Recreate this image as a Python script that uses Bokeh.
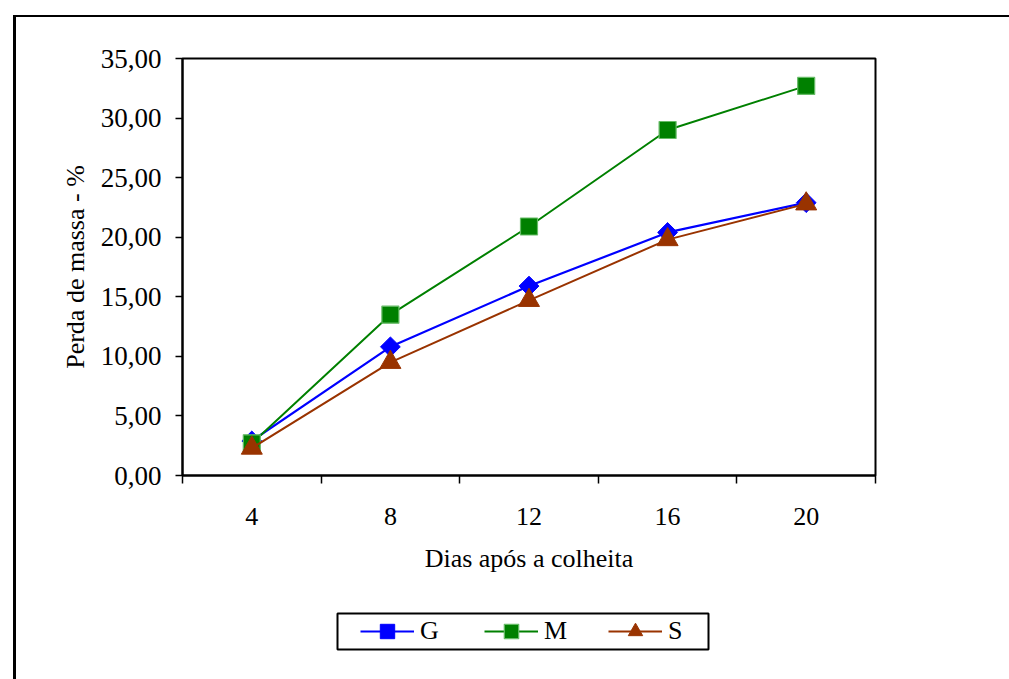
import numpy as np
from bokeh.plotting import figure
from bokeh.layouts import column, row
from bokeh.models import Range1d, FixedTicker, Legend, LegendItem, Spacer
from bokeh.embed import file_html
from bokeh.resources import INLINE

dias = ["4", "8", "12", "16", "20"]
g_vals = [2.9, 10.8, 15.9, 20.4, 22.9]
m_vals = [2.7, 13.5, 20.9, 29.0, 32.7]
s_vals = [2.3, 9.5, 14.7, 19.8, 22.8]
y_ticks = [0, 5, 10, 15, 20, 25, 30, 35]
y_tick_labels = ["0,00", "5,00", "10,00", "15,00", "20,00", "25,00", "30,00", "35,00"]
series_names = ["G", "M", "S"]

FONT = "Liberation Serif"
FS = "26px"

styles_g = dict(line_color="#0000FF", line_width=2.2)
mark_g = dict(marker="square", angle=np.pi / 4, size=14, fill_color="#0000FF", line_color="#0000FF")
styles_m = dict(line_color="#008000", line_width=2)
mark_m = dict(marker="square", size=17, fill_color="#008000", line_color="#66bb66", line_width=1.2)
styles_s = dict(line_color="#993300", line_width=2)
mark_s = dict(marker="triangle", size=21, fill_color="#993300", line_color="#993300")

xs = [i + 0.5 for i in range(len(dias))]

p = figure(width=993, height=590,
           x_range=Range1d(0, len(dias)), y_range=Range1d(0, 35),
           output_backend="svg", toolbar_location=None,
           min_border_left=166, min_border_right=134,
           min_border_top=41, min_border_bottom=132)
p.background_fill_color = "white"
p.border_fill_color = "white"
p.outline_line_color = "black"
p.outline_line_width = 2
p.xgrid.visible = False
p.ygrid.visible = False

# x axis: ticks at category boundaries, labels at centres
xa = p.xaxis[0]
xa.ticker = FixedTicker(ticks=xs, minor_ticks=list(range(len(dias) + 1)))
xa.major_label_overrides = {x: d for x, d in zip(xs, dias)}
xa.major_tick_line_color = None
xa.minor_tick_line_color = "black"
xa.minor_tick_line_width = 1.5
xa.minor_tick_out = 8
xa.minor_tick_in = 0
xa.axis_line_color = "black"
xa.axis_line_width = 2
xa.major_label_standoff = 24
xa.major_label_text_font = FONT
xa.major_label_text_font_size = FS
xa.major_label_text_color = "black"
xa.axis_label = "Dias após a colheita"
xa.axis_label_text_font = FONT
xa.axis_label_text_font_size = FS
xa.axis_label_text_font_style = "normal"
xa.axis_label_text_color = "black"
xa.axis_label_standoff = 16

ya = p.yaxis[0]
ya.ticker = FixedTicker(ticks=y_ticks, minor_ticks=[])
ya.major_label_overrides = {v: l for v, l in zip(y_ticks, y_tick_labels)}
ya.major_tick_line_color = "black"
ya.major_tick_line_width = 1.5
ya.major_tick_out = 7
ya.major_tick_in = 0
ya.axis_line_color = "black"
ya.axis_line_width = 2
ya.major_label_standoff = 14
ya.major_label_text_font = FONT
ya.major_label_text_font_size = "27px"
ya.major_label_text_color = "black"
ya.axis_label = "Perda de massa - %"
ya.axis_label_text_font = FONT
ya.axis_label_text_font_size = FS
ya.axis_label_text_font_style = "normal"
ya.axis_label_text_color = "black"
ya.axis_label_standoff = 8

p.line(xs, g_vals, **styles_g)
p.scatter(xs, g_vals, **mark_g)
p.line(xs, m_vals, **styles_m)
p.scatter(xs, m_vals, **mark_m)
p.line(xs, s_vals, **styles_s)
p.scatter(xs, s_vals, **mark_s)

# legend box as its own small figure (legend-only renderers have no visible points)
pl = figure(width=375, height=40, output_backend="svg", toolbar_location=None,
            x_range=Range1d(0, len(dias)), y_range=Range1d(0, 35),
            x_axis_type=None, y_axis_type=None, min_border=2)
pl.xgrid.visible = False
pl.ygrid.visible = False
pl.outline_line_color = "black"
pl.outline_line_width = 2
pl.background_fill_color = "white"
pl.border_fill_color = "white"
hidden = [float("nan")] * len(xs)
lg = pl.line(xs, hidden, **styles_g)
mg = pl.scatter(xs, hidden, **mark_g)
lm = pl.line(xs, hidden, **styles_m)
mm = pl.scatter(xs, hidden, **mark_m)
ls = pl.line(xs, hidden, **styles_s)
ms = pl.scatter(xs, hidden, **mark_s)

legend = Legend(items=[
    LegendItem(label=series_names[0], renderers=[lg, mg]),
    LegendItem(label=series_names[1], renderers=[lm, mm]),
    LegendItem(label=series_names[2], renderers=[ls, ms]),
], orientation="horizontal", location=(23, 0))
legend.margin = 0
legend.padding = 0
legend.spacing = 34
legend.glyph_width = 54
legend.glyph_height = 36
legend.label_standoff = 6
legend.label_width = 30
legend.label_text_font = FONT
legend.label_text_font_size = FS
legend.label_text_color = "black"
legend.border_line_color = None
legend.background_fill_alpha = 0
pl.add_layout(legend, "center")

layout = column(p, Spacer(height=4),
                row(Spacer(width=319), pl),
                Spacer(height=28),
                styles={"margin-left": "13px", "margin-top": "15px",
                        "border-left": "3px solid black", "border-top": "2px solid black"})

open("out.html", "w").write(file_html(layout, INLINE))
